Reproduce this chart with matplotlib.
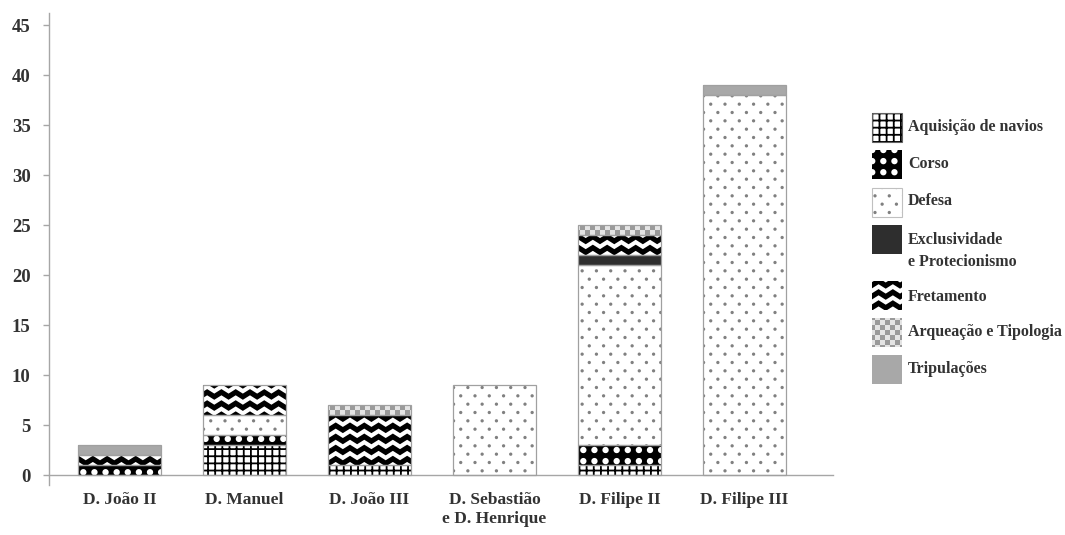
import warnings
import numpy as np
import matplotlib
matplotlib.use("Agg")
import matplotlib.pyplot as plt
import matplotlib.hatch as mhatch
import matplotlib.patches as mpatches
from matplotlib.path import Path

warnings.filterwarnings("ignore")

# ---------------- data ----------------
categories = ["D. João II", "D. Manuel", "D. João III",
              "D. Sebastião\ne D. Henrique", "D. Filipe II", "D. Filipe III"]
series_names = ["Aquisição de navios", "Corso", "Defesa",
                "Exclusividade\ne Protecionismo", "Fretamento",
                "Arqueação e Tipologia", "Tripulações"]
aquisicao = [0, 3, 1, 0, 1, 0]
corso = [1, 1, 0, 0, 2, 0]
defesa = [0, 2, 0, 9, 18, 38]
exclusividade = [0, 0, 0, 0, 1, 0]
fretamento = [1, 3, 5, 0, 2, 0]
arqueacao = [0, 0, 1, 0, 1, 0]
tripulacoes = [1, 0, 0, 0, 0, 1]
yticks = [0, 5, 10, 15, 20, 25, 30, 35, 40, 45]

# ---------------- custom texture hatches ----------------
def _circle(cx, cy, r, n=16):
    t = np.linspace(0, 2 * np.pi, n, endpoint=False)
    return np.column_stack([cx + r * np.cos(t), cy + r * np.sin(t)])

def _rect(x0, y0, x1, y1):
    return np.array([[x0, y0], [x1, y0], [x1, y1], [x0, y1]])

def pat_grid():
    polys = []
    n, w = 14, 0.018
    for i in range(n):
        p = i / n
        polys.append(_rect(p, 0, p + w, 1))
        polys.append(_rect(0, p, 1, p + w))
    return polys

def pat_corso():
    polys = []
    n, r = 9, 0.032
    for i in range(n):
        for j in range(n):
            polys.append(_circle((i + 0.5) / n, (j + 0.5) / n, r))
    return polys

def pat_dots():
    polys = []
    nx, ny, r = 7, 12, 0.017
    for j in range(ny):
        off = 0.25 if j % 2 == 0 else 0.75
        for i in range(nx):
            polys.append(_circle((i + off) / nx, (j + 0.5) / ny, r, 10))
    return polys

def pat_zigzag():
    polys = []
    nt, nr, amp, th = 7, 9, 0.045, 0.062
    k = np.arange(2 * nt + 1)
    xs = k / (2 * nt)
    for j in range(nr):
        base = j / nr + 0.002
        low = base + np.where(k % 2 == 1, amp, 0.0)
        lower = np.column_stack([xs, low])
        upper = np.column_stack([xs[::-1], (low + th)[::-1]])
        polys.append(np.vstack([lower, upper]))
    return polys

def pat_checker():
    polys = []
    n = 20
    for i in range(n):
        for j in range(n):
            if (i + j) % 2 == 0:
                polys.append(_rect(i / n, j / n, (i + 1) / n, (j + 1) / n))
    return polys

PATTERNS = {"g": pat_grid, "c": pat_corso, "d": pat_dots,
            "z": pat_zigzag, "k": pat_checker}

def _build(polys):
    verts, codes = [], []
    for p in polys:
        verts.extend(list(p) + [p[0]])
        codes.extend([Path.MOVETO] + [Path.LINETO] * (len(p) - 1) + [Path.CLOSEPOLY])
    return np.array(verts, float), np.array(codes, Path.code_type)

class TextureHatch(mhatch.HatchPatternBase):
    def __init__(self, hatch, density):
        self.num_vertices = 0
        for key, fn in PATTERNS.items():
            if hatch and key in hatch:
                self._v, self._c = _build(fn())
                self.num_vertices = len(self._v)
                break

    def set_vertices_and_codes(self, vertices, codes):
        vertices[:] = self._v
        codes[:] = self._c

mhatch._hatch_types.append(TextureHatch)
mhatch._validate_hatch_pattern = lambda h: None

plt.rcParams["hatch.linewidth"] = 0.0

# styles: facecolor, hatch colour, hatch key, legend outline
styles = [("white", "black", "g", "#606060"),
          ("black", "white", "c", None),
          ("white", "#808080", "d", "#c0c0c0"),
          ("#2e2e2e", "#2e2e2e", None, None),
          ("white", "black", "z", None),
          ("#e4e4e4", "#9a9a9a", "k", None),
          ("#a8a8a8", "#a8a8a8", None, None)]
series = [aquisicao, corso, defesa, exclusividade, fretamento, arqueacao, tripulacoes]

# ---------------- figure ----------------
W, H = 1065, 535
fig = plt.figure(figsize=(W / 100, H / 100), dpi=100)
ax = fig.add_axes([49 / W, 1 - 485 / H, (833 - 49) / W, (485 - 13) / H])

text_color = "#333333"
font = {"family": "Liberation Serif", "weight": "bold"}
gray = "#a6a6a6"

x = np.arange(len(categories))
width = 0.664
bottom = np.zeros(len(categories))
for vals, (fc, hc, hk, _) in zip(series, styles):
    vals = np.array(vals, float)
    m = vals > 0
    ax.bar(x[m], vals[m], bottom=bottom[m], width=width, color=fc,
           edgecolor=hc, hatch=hk, linewidth=0, zorder=2)
    ax.bar(x[m], vals[m], bottom=bottom[m], width=width, fill=False,
           edgecolor="#a0a0a0", linewidth=0.9, zorder=3)
    bottom += vals

ax.set_xlim(-0.564, 5.708)
ax.set_ylim(-1, 46.2)
for s in ["top", "right"]:
    ax.spines[s].set_visible(False)
ax.spines["bottom"].set_position(("data", 0))
ax.spines["bottom"].set_color(gray)
ax.spines["left"].set_color(gray)
ax.spines["bottom"].set_linewidth(1.0)
ax.spines["left"].set_linewidth(1.0)

ax.set_yticks(yticks)
ax.set_yticklabels([str(v) for v in yticks], fontsize=13.5, color=text_color, **font)
ax.tick_params(axis="y", length=4.3, width=1.0, color=gray, pad=9)
ax.set_xticks(x)
ax.set_xticklabels(categories, fontsize=12.5, color=text_color, **font)
ax.tick_params(axis="x", length=0, pad=12.5)

# ---------------- legend (hand-placed entries, pixel layout) ----------------
patch_tops = [113, 150, 188, 225, 281, 318, 355]
text_centers = [127, 164, 201, 251.5, 297, 332, 369]
px_left, pw, ph, tx = 872, 30, 29, 908
for (fc, hc, hk, oc), name, top, tc in zip(styles, series_names, patch_tops, text_centers):
    xy = (px_left / W, 1 - (top + ph) / H)
    r = mpatches.Rectangle(xy, pw / W, ph / H, transform=fig.transFigure,
                           facecolor=fc, edgecolor=hc, hatch=hk, linewidth=0)
    fig.add_artist(r)
    if oc is not None:
        fig.add_artist(mpatches.Rectangle(xy, pw / W, ph / H, transform=fig.transFigure,
                                          fill=False, edgecolor=oc, linewidth=0.8))
    fig.text(tx / W, 1 - tc / H, name, ha="left", va="center",
             fontsize=11.5, color=text_color, linespacing=1.5, **font)

fig.savefig("out.png", dpi=100)
